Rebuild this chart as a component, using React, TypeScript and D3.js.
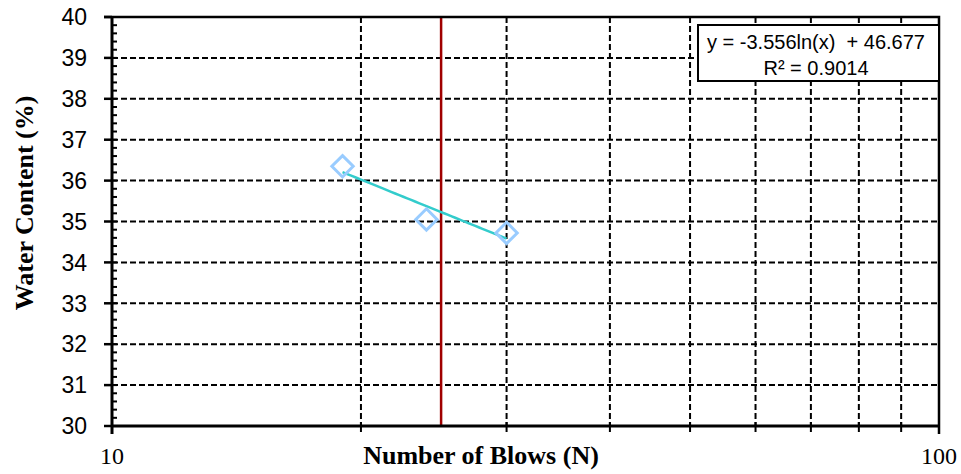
import { useEffect, useRef } from "react";
import * as d3 from "d3";

// measured points (Number of blows vs water content)
const blows = [19, 24, 30];
const waterContent = [36.35, 35.05, 34.72];
const xTicks = [10, 100];
const yTicks = [30, 31, 32, 33, 34, 35, 36, 37, 38, 39, 40];
const fitSlope = -3.556;
const fitIntercept = 46.677;
const liquidLimitBlows = 25;
const fitLabel = ["y = -3.556ln(x)  + 46.677", "R² = 0.9014"];

export default function App() {
    const svgRef = useRef<SVGSVGElement>(null);

    useEffect(() => {
        const width = 961;
        const height = 474;
        const left = 112, right = 939, top = 17, bottom = 426;

        const svg = d3.select(svgRef.current);
        svg.selectAll("*").remove();

        const x = d3.scaleLog().domain([10, 100]).range([left, right]);
        const y = d3.scaleLinear().domain([30, 40]).range([bottom, top]);

        const minorX = d3.range(20, 100, 10);
        const minorY = d3.range(30, 40.001, 0.2);

        // grid
        svg.append("g")
            .selectAll("line")
            .data(minorX)
            .enter()
            .append("line")
            .attr("x1", d => x(d)).attr("x2", d => x(d))
            .attr("y1", top).attr("y2", bottom)
            .attr("stroke", "#000").attr("stroke-width", 2)
            .attr("stroke-dasharray", "6,3");

        svg.append("g")
            .selectAll("line")
            .data(yTicks.slice(1, -1))
            .enter()
            .append("line")
            .attr("x1", left).attr("x2", right)
            .attr("y1", d => y(d)).attr("y2", d => y(d))
            .attr("stroke", "#000").attr("stroke-width", 2)
            .attr("stroke-dasharray", "6,3");

        // liquid limit line at N = 25
        svg.append("line")
            .attr("x1", x(liquidLimitBlows)).attr("x2", x(liquidLimitBlows))
            .attr("y1", top).attr("y2", bottom)
            .attr("stroke", "#a00000").attr("stroke-width", 2.5);

        // border top + right
        svg.append("path")
            .attr("d", `M${left - 8},${top}H${right}V${bottom + 8}`)
            .attr("fill", "none").attr("stroke", "#000").attr("stroke-width", 2.5);

        // Y axis
        const yAxis = svg.append("g").attr("transform", `translate(${left},0)`);
        yAxis.append("line")
            .attr("x1", 0).attr("x2", 0).attr("y1", top).attr("y2", bottom + 8)
            .attr("stroke", "#000").attr("stroke-width", 3);
        yAxis.selectAll("line.minor")
            .data(minorY)
            .enter()
            .append("line")
            .attr("class", "minor")
            .attr("x1", 0).attr("x2", 5)
            .attr("y1", d => y(d)).attr("y2", d => y(d))
            .attr("stroke", "#000").attr("stroke-width", 2);
        yAxis.selectAll("line.major")
            .data(yTicks)
            .enter()
            .append("line")
            .attr("class", "major")
            .attr("x1", -8).attr("x2", 0)
            .attr("y1", d => y(d)).attr("y2", d => y(d))
            .attr("stroke", "#000").attr("stroke-width", 2.5);
        yAxis.selectAll("text")
            .data(yTicks)
            .enter()
            .append("text")
            .attr("x", -25)
            .attr("y", d => y(d))
            .attr("dy", "0.36em")
            .attr("text-anchor", "end")
            .attr("font-family", "'Liberation Sans', Arial, sans-serif")
            .attr("font-size", 23)
            .text(d => d);

        // X axis
        const xAxis = svg.append("g").attr("transform", `translate(0,${bottom})`);
        xAxis.append("line")
            .attr("x1", left).attr("x2", right)
            .attr("stroke", "#000").attr("stroke-width", 3);
        xAxis.selectAll("line.minor")
            .data(minorX)
            .enter()
            .append("line")
            .attr("class", "minor")
            .attr("x1", d => x(d)).attr("x2", d => x(d))
            .attr("y1", -4).attr("y2", 6)
            .attr("stroke", "#000").attr("stroke-width", 2);
        xAxis.selectAll("text")
            .data(xTicks)
            .enter()
            .append("text")
            .attr("x", d => x(d))
            .attr("y", 38)
            .attr("text-anchor", "middle")
            .attr("font-family", "'Liberation Serif', 'Times New Roman', serif")
            .attr("font-size", 24)
            .text(d => d);

        // axis titles
        svg.append("text")
            .attr("x", 481).attr("y", 464)
            .attr("text-anchor", "middle")
            .attr("font-family", "'Liberation Serif', 'Times New Roman', serif")
            .attr("font-weight", "bold")
            .attr("font-size", 26)
            .text("Number of Blows (N)");
        svg.append("text")
            .attr("transform", "translate(33,203) rotate(-90)")
            .attr("text-anchor", "middle")
            .attr("font-family", "'Liberation Serif', 'Times New Roman', serif")
            .attr("font-weight", "bold")
            .attr("font-size", 26)
            .text("Water Content (%)");

        // trendline
        const fitX = d3.range(d3.min(blows)!, d3.max(blows)! + 0.01, 0.25);
        const line = d3.line<number>()
            .x(d => x(d))
            .y(d => y(fitSlope * Math.log(d) + fitIntercept));
        svg.append("path")
            .datum(fitX)
            .attr("d", line)
            .attr("fill", "none")
            .attr("stroke", "#33cccc")
            .attr("stroke-width", 2.5);

        // points
        const sym = d3.symbol().type(d3.symbolDiamond2).size(290);
        svg.selectAll("path.pt")
            .data(blows)
            .enter()
            .append("path")
            .attr("class", "pt")
            .attr("d", sym)
            .attr("transform", (d, i) => `translate(${x(d)},${y(waterContent[i])})`)
            .attr("fill", "none")
            .attr("stroke", "#99ccff")
            .attr("stroke-width", 3);

        // equation box
        const box = svg.append("g");
        box.append("rect")
            .attr("x", 698).attr("y", 25).attr("width", 241).attr("height", 56)
            .attr("fill", "#fff").attr("stroke", "#000").attr("stroke-width", 2);
        box.selectAll("text")
            .data(fitLabel)
            .enter()
            .append("text")
            .attr("x", 816)
            .attr("y", (d, i) => 49 + i * 26)
            .attr("text-anchor", "middle")
            .attr("font-family", "'Liberation Sans', Arial, sans-serif")
            .attr("font-size", 20)
            .style("white-space", "pre")
            .text(d => d);

        svg.attr("width", width).attr("height", height);
    }, []);

    return (
        <svg
            ref={svgRef}
            width={961}
            height={474}
            style={{ position: "absolute", left: 0, top: 0, background: "#fff" }}
        ></svg>
    );
}
